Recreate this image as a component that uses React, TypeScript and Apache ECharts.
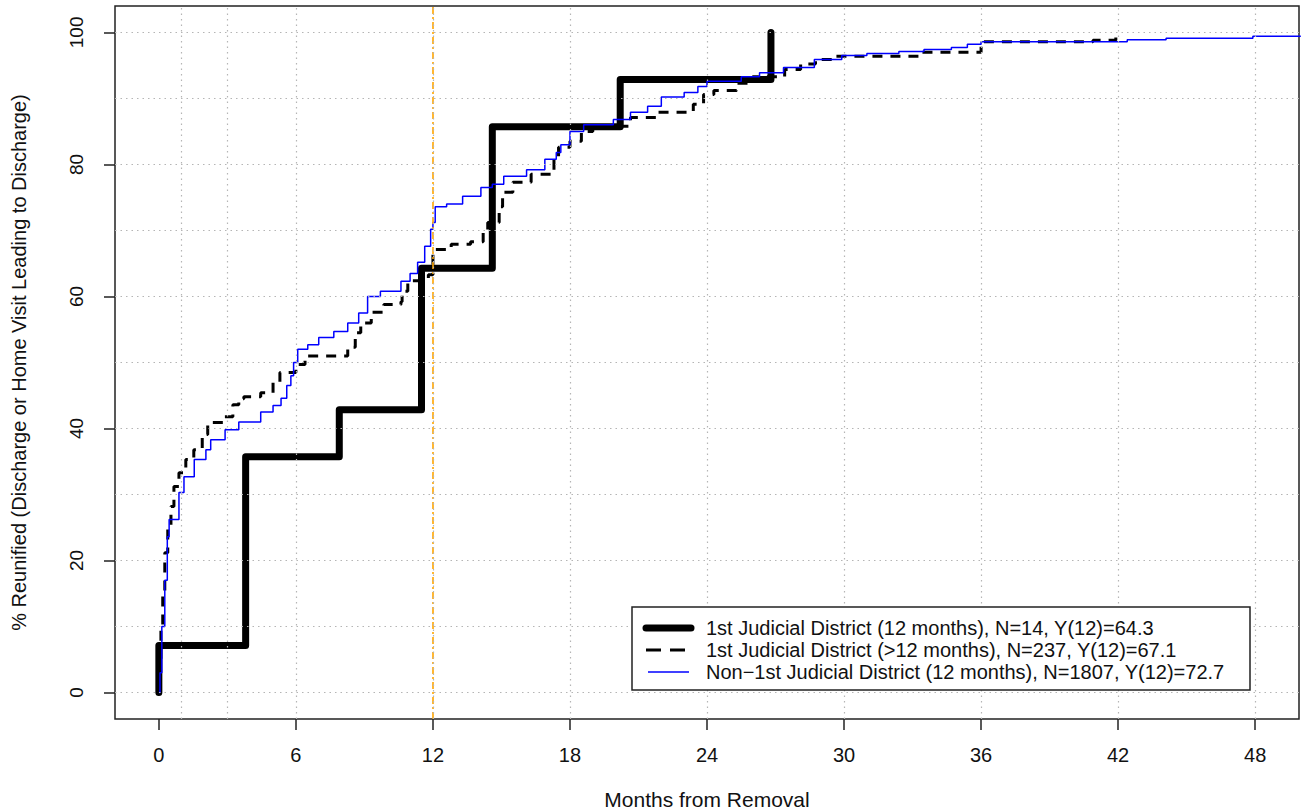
import React, { useEffect, useRef } from "react";
import * as echarts from "echarts";

// ---- Axis ticks / grid ----
const xTicks = [0, 6, 12, 18, 24, 30, 36, 42, 48];
const yTicks = [0, 20, 40, 60, 80, 100];
const xGridLines = [1, 3, 6, 12, 18, 24, 30, 36, 42, 48];
const yGridLines = [0, 10, 20, 30, 40, 50, 60, 70, 80, 90, 100];
const referenceMonth = 12;

const xTitle = "Months from Removal";
const yTitle = "% Reunified (Discharge or Home Visit Leading to Discharge)";

const seriesNames = [
  "1st Judicial District (12 months), N=14, Y(12)=64.3",
  "1st Judicial District (>12 months), N=237, Y(12)=67.1",
  "Non\u22121st Judicial District (12 months), N=1807, Y(12)=72.7",
];

// ---- Series 1: 1st Judicial District (12 months) ----
const thickMonths = [0, 0, 3.8, 7.9, 11.5, 14.6, 20.2, 26.8];
const thickValues = [0, 7.14, 35.71, 42.86, 64.29, 85.71, 92.86, 100];

// ---- Series 2: 1st Judicial District (>12 months) ----
const dashedMonths = [
  0, 0.05, 0.09, 0.17, 0.26, 0.39, 0.53, 0.66, 0.88, 1.18, 1.53, 1.9, 2.14, 2.85,
  3.24, 3.5, 3.72, 4.46, 5.0, 5.3, 6.0, 6.4, 8.27, 8.6, 8.84, 9.3, 9.85, 10.6,
  10.65, 10.9, 11.8, 12.0, 12.8, 13.65, 14.2, 14.4, 14.9, 15.05, 15.5, 16.3, 17.3,
  17.5, 18.0, 18.5, 19.0, 20.65, 21.8, 23.4, 23.85, 24.3, 25.3, 26.0, 27.4, 28.1,
  28.75, 29.5, 33.4, 36.0, 40.9, 41.9,
];
const dashedValues = [
  0, 5, 10, 15.2, 21.2, 25.2, 28.2, 31.2, 33.3, 35.3, 36.8, 39.1, 40.9, 41.8,
  43.6, 44.5, 44.8, 45.4, 47.0, 48.5, 49.7, 51.0, 52.3, 54.5, 56.0, 57.6, 58.8, 59.2,
  60.8, 62.4, 63.3, 67.1, 67.9, 68.3, 69.7, 71.2, 73.6, 75.8, 77.3, 78.5, 81.2,
  82.6, 83.5, 85.0, 85.8, 87.1, 87.9, 89.1, 90.6, 91.2, 92.3, 93.3, 94.4, 95.2,
  95.9, 96.4, 97.0, 98.6, 98.8, 99.4,
];

// ---- Series 3: Non-1st Judicial District (12 months) ----
const blueMonths = [
  0, 0.05, 0.13, 0.26, 0.37, 0.45, 0.88, 1.1, 1.55, 2.06, 2.27, 2.9, 3.5, 4.46,
  5.0, 5.35, 5.6, 5.78, 5.9, 6.08, 6.52, 7.0, 7.66, 8.27, 8.75, 9.14, 9.7, 10.6,
  11.0, 11.33, 11.64, 11.9, 12.0, 12.1, 12.6, 13.3, 14.1, 14.6, 15.1, 16.1, 16.9,
  17.4, 17.6, 18.0, 18.6, 19.9, 20.65, 21.4, 22.0, 23.0, 23.6, 24.0, 25.5, 26.3,
  27.35, 28.7, 29.9, 31.0, 32.4, 33.5, 34.7, 35.4, 36.0, 42.4, 44.1, 47.9, 50,
];
const blueValues = [
  0, 3, 10, 17, 23.6, 26.2, 30.3, 32.7, 35.3, 36.8, 38.3, 39.8, 41.0, 42.5,
  43.5, 44.6, 46.5, 48, 50, 52, 52.7, 53.8, 54.7, 56, 57.5, 60, 60.8, 62.3,
  63.5, 65.2, 67.6, 70.2, 71.2, 73.6, 74.0, 75.2, 76.5, 77.0, 78.2, 79.2, 80.8,
  81.8, 83, 85, 86, 86.8, 87.9, 88.8, 90.2, 90.9, 91.8, 92.6, 93.3, 93.9,
  94.7, 95.9, 96.5, 96.8, 97.1, 97.4, 97.7, 98.2, 98.6, 98.9, 99.1, 99.4, 99.4,
];

const FONT = "'Liberation Sans', Arial, Helvetica, sans-serif";

const zip = (xs: number[], ys: number[]) => xs.map((x, i) => [x, ys[i]]);

export default function App() {
  const ref = useRef<HTMLDivElement>(null);

  useEffect(() => {
    if (!ref.current) return;
    const chart = echarts.init(ref.current, undefined, { renderer: "svg" });

    const gridLeft = 115;
    const gridTop = 6;
    const gridW = 1184;
    const gridH = 713;

    // legend geometry
    const lgX = 632;
    const lgY = 607;
    const lgW = 618;
    const lgH = 83;
    const rows = [628, 650, 672];
    const sampleX1 = 646;
    const sampleX2 = 691;
    const textX = 706;

    const option: any = {
      animation: false,
      backgroundColor: "#ffffff",
      grid: {
        left: gridLeft,
        top: gridTop,
        width: gridW,
        height: gridH,
        containLabel: false,
        outerBoundsMode: "none",
        show: true,
        borderColor: "#222",
        borderWidth: 1.5,
        backgroundColor: "transparent",
        z: 0,
      },
      xAxis: {
        type: "value",
        min: -1.92,
        max: 49.92,
        name: xTitle,
        nameLocation: "middle",
        nameGap: 70,
        nameTextStyle: { fontFamily: FONT, fontSize: 21, color: "#111" },
        axisLine: { show: false, onZero: false },
        axisTick: {
          show: true,
          length: 11,
          customValues: xTicks,
          lineStyle: { color: "#222", width: 1.5 },
        },
        axisLabel: {
          show: true,
          customValues: xTicks,
          fontFamily: FONT,
          fontSize: 20,
          color: "#111",
          margin: 26,
        },
        splitLine: { show: false },
      },
      yAxis: {
        type: "value",
        min: -4,
        max: 104,
        name: yTitle,
        nameLocation: "middle",
        nameGap: 86,
        nameRotate: 90,
        nameTextStyle: { fontFamily: FONT, fontSize: 20, color: "#111" },
        axisLine: { show: false, onZero: false },
        axisTick: {
          show: true,
          length: 11,
          customValues: yTicks,
          lineStyle: { color: "#222", width: 1.5 },
        },
        axisLabel: {
          show: true,
          customValues: yTicks,
          rotate: 90,
          fontFamily: FONT,
          fontSize: 19,
          color: "#111",
          margin: 29,
        },
        splitLine: { show: false },
      },
      graphic: [
        {
          type: "rect",
          z: 50,
          shape: { x: lgX, y: lgY, width: lgW, height: lgH },
          style: { fill: "#ffffff", stroke: "#222", lineWidth: 1.5 },
        },
        {
          type: "line",
          z: 51,
          shape: { x1: sampleX1, y1: rows[0], x2: sampleX2, y2: rows[0] },
          style: { stroke: "#000", lineWidth: 7, lineCap: "round" },
        },
        {
          type: "line",
          z: 51,
          shape: { x1: sampleX1, y1: rows[1], x2: sampleX2, y2: rows[1] },
          style: { stroke: "#000", lineWidth: 3, lineDash: [15, 9] },
        },
        {
          type: "line",
          z: 51,
          shape: { x1: sampleX1 + 2, y1: rows[2], x2: sampleX2 - 2, y2: rows[2] },
          style: { stroke: "#0000ff", lineWidth: 1.5 },
        },
        ...seriesNames.map((name, i) => ({
          type: "text",
          z: 51,
          x: textX,
          y: rows[i],
          style: {
            text: name,
            fontFamily: FONT,
            fontSize: 20,
            fill: "#111",
            textVerticalAlign: "middle",
            verticalAlign: "middle",
          },
        })),
      ],
      series: [
        {
          name: seriesNames[0],
          type: "line",
          step: "end",
          symbol: "none",
          z: 2,
          data: zip(thickMonths, thickValues),
          lineStyle: { color: "#000", width: 7, cap: "round", join: "round" },
        },
        {
          name: seriesNames[1],
          type: "line",
          step: "end",
          symbol: "none",
          z: 3,
          data: zip(dashedMonths, dashedValues),
          lineStyle: { color: "#000", width: 3, type: [10, 8] },
        },
        {
          name: seriesNames[2],
          type: "line",
          step: "end",
          symbol: "none",
          z: 4,
          data: zip(blueMonths, blueValues),
          lineStyle: { color: "#0000ff", width: 1.5 },
        },
        {
          name: "ref",
          type: "line",
          data: [],
          z: 90,
          markLine: {
            silent: true,
            symbol: ["none", "none"],
            label: { show: false },
            lineStyle: { color: "#FFA500", width: 1.6, type: [7, 3, 2, 3] },
            data: [{ xAxis: referenceMonth }],
          },
        },
        {
          name: "grid",
          type: "line",
          data: [],
          z: 100,
          markLine: {
            silent: true,
            symbol: ["none", "none"],
            label: { show: false },
            lineStyle: { color: "#b5b5b5", width: 1.2, type: [1.5, 4] },
            data: [
              ...xGridLines.map((v) => ({ xAxis: v })),
              ...yGridLines.map((v) => ({ yAxis: v })),
            ],
          },
        },
      ],
    };

    chart.setOption(option);
    return () => chart.dispose();
  }, []);

  return (
    <div
      ref={ref}
      style={{ position: "fixed", left: 0, top: 0, width: 1301, height: 812, background: "#fff" }}
    />
  );
}
